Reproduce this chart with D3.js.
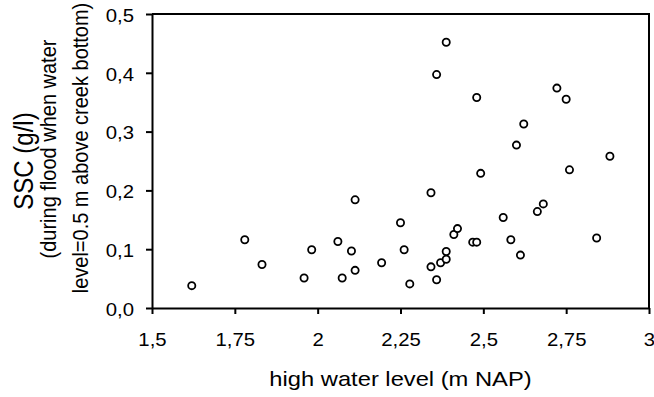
<!DOCTYPE html>
<html>
<head>
<meta charset="utf-8">
<script src="https://cdn.jsdelivr.net/npm/d3@7"></script>
<style>
  html, body { margin: 0; padding: 0; background: #fff; }
  svg { display: block; font-family: "Liberation Sans", Arial, sans-serif; }
</style>
</head>
<body>
<div class="container"></div>
<script>
// high water level (m NAP)
var aLevel = [1.620, 1.780, 1.832, 1.959, 1.982, 2.061, 2.074, 2.102, 2.113, 2.113,
	2.193, 2.250, 2.261, 2.278, 2.342, 2.342, 2.359, 2.371, 2.388, 2.388,
	2.411, 2.422, 2.468, 2.480, 2.492, 2.560, 2.583, 2.612, 2.663, 2.681,
	2.760, 2.842, 2.882, 2.388, 2.359, 2.480, 2.722, 2.750, 2.622, 2.600];
// SSC (g/l)
var aSSC = [0.038, 0.116, 0.074, 0.051, 0.099, 0.113, 0.051, 0.097, 0.064, 0.184,
	0.077, 0.145, 0.099, 0.041, 0.196, 0.070, 0.048, 0.077, 0.083, 0.096,
	0.125, 0.135, 0.112, 0.112, 0.229, 0.154, 0.116, 0.090, 0.164, 0.177,
	0.235, 0.119, 0.258, 0.452, 0.397, 0.358, 0.374, 0.355, 0.313, 0.277];

var aXTicks = [1.5, 1.75, 2, 2.25, 2.5, 2.75, 3];
var aXLabels = ["1,5", "1,75", "2", "2,25", "2,5", "2,75", "3"];
var aYTicks = [0, 0.1, 0.2, 0.3, 0.4, 0.5];
var aYLabels = ["0,0", "0,1", "0,2", "0,3", "0,4", "0,5"];

var iWidth = 654, iHeight = 397;
var oMargin = { top: 14, right: 5, bottom: 89, left: 152 };
var fStretch = 1.13; // the picture is a little wider than tall

var oSVG = d3.select(".container").append("svg")
	.attr("width", iWidth)
	.attr("height", iHeight);

var x = d3.scaleLinear().domain([1.5, 3]).range([oMargin.left, iWidth - oMargin.right]);
var y = d3.scaleLinear().domain([0, 0.5]).range([iHeight - oMargin.bottom, oMargin.top]);

// frame (top and right)
oSVG.append("path")
	.attr("d", "M" + x(1.5) + "," + y(0.5) + "H" + x(3) + "V" + y(0))
	.attr("fill", "none")
	.attr("stroke", "#000")
	.attr("stroke-width", 2);

var xAxis = d3.axisBottom(x)
	.tickValues(aXTicks)
	.tickSize(6)
	.tickSizeOuter(0)
	.tickFormat(function(d, i) { return aXLabels[i]; });

var yAxis = d3.axisLeft(y)
	.tickValues(aYTicks)
	.tickSize(6)
	.tickSizeOuter(0)
	.tickFormat(function(d, i) { return aYLabels[i]; });

var gX = oSVG.append("g")
	.attr("transform", "translate(0," + y(0) + ")")
	.call(xAxis);
gX.selectAll("text")
	.attr("dy", 0).attr("y", 0)
	.attr("transform", "translate(0,38) scale(" + fStretch + ",1)")
	.style("font-size", "18px").style("fill", "#000");

var gY = oSVG.append("g")
	.attr("transform", "translate(" + x(1.5) + ",0)")
	.call(yAxis);
gY.selectAll("text")
	.attr("x", 0).attr("dy", "0.4em")
	.attr("transform", "translate(-18,0) scale(" + fStretch + ",1)")
	.style("font-size", "18px").style("fill", "#000");

oSVG.selectAll(".domain, .tick line")
	.attr("stroke", "#000")
	.attr("stroke-width", 2);

// points
oSVG.append("g").selectAll("circle")
	.data(aLevel)
	.enter()
	.append("circle")
	.attr("cx", function(d) { return x(d); })
	.attr("cy", function(d, i) { return y(aSSC[i]); })
	.attr("r", 3.6)
	.attr("fill", "#fff")
	.attr("stroke", "#000")
	.attr("stroke-width", 1.8);

// axis titles
oSVG.append("text")
	.attr("transform", "translate(" + (x(1.5) + x(3)) / 2 + ",386) scale(" + fStretch + ",1)")
	.attr("text-anchor", "middle")
	.style("font-size", "21px")
	.text("high water level (m NAP)");

function yTitle(sText, fX, fY, iSize) {
	oSVG.append("text")
		.attr("transform", "translate(" + fX + "," + fY + ") scale(" + fStretch + ",1) rotate(-90)")
		.attr("text-anchor", "middle")
		.style("font-size", iSize + "px")
		.text(sText);
}
yTitle("SSC (g/l)", 33, 161, 24);
yTitle("(during flood when water", 56, 149, 20);
yTitle("level=0.5 m above creek bottom)", 88, 148, 20);
</script>
</body>
</html>
